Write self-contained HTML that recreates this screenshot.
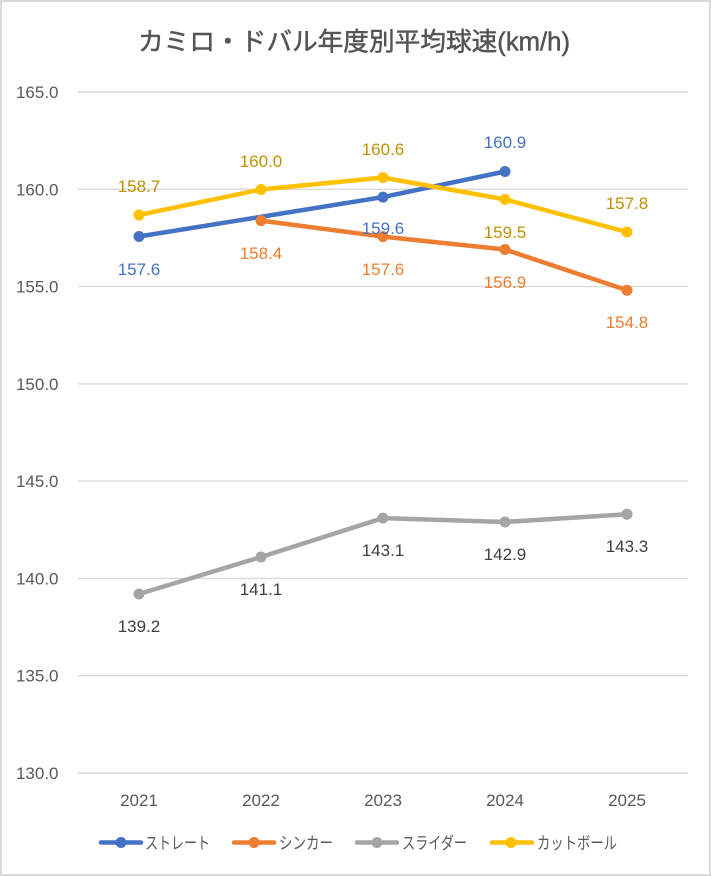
<!DOCTYPE html>
<html><head><meta charset="utf-8"><style>
html,body{margin:0;padding:0;background:#fff;}
svg{display:block;}
text{font-family:"Liberation Sans","Noto Sans CJK JP",sans-serif;}
</style></head><body>
<svg width="711" height="876" viewBox="0 0 711 876" xmlns="http://www.w3.org/2000/svg">
<rect x="0" y="0" width="711" height="876" fill="#fff"/>
<rect x="1" y="1" width="709" height="874" fill="none" stroke="#d9d9d9" stroke-width="2"/>
<text x="354" y="50.5" font-size="25.5" fill="#555555" stroke="#555555" stroke-width="0.5" text-anchor="middle" textLength="432" lengthAdjust="spacingAndGlyphs">カミロ・ドバル年度別平均球速(km/h)</text>
<g stroke="#d9d9d9" stroke-width="1.4">
<line x1="78" y1="92" x2="688" y2="92"/>
<line x1="78" y1="189.3" x2="688" y2="189.3"/>
<line x1="78" y1="286.6" x2="688" y2="286.6"/>
<line x1="78" y1="383.9" x2="688" y2="383.9"/>
<line x1="78" y1="481.1" x2="688" y2="481.1"/>
<line x1="78" y1="578.4" x2="688" y2="578.4"/>
<line x1="78" y1="675.7" x2="688" y2="675.7"/>
<line x1="78" y1="773" x2="688" y2="773"/>
</g>
<g font-size="17" fill="#595959" text-anchor="end">
<text x="58.5" y="98">165.0</text>
<text x="58.5" y="195.3">160.0</text>
<text x="58.5" y="292.6">155.0</text>
<text x="58.5" y="389.9">150.0</text>
<text x="58.5" y="487.1">145.0</text>
<text x="58.5" y="584.4">140.0</text>
<text x="58.5" y="681.7">135.0</text>
<text x="58.5" y="779">130.0</text>
</g>
<g font-size="17" fill="#595959" text-anchor="middle">
<text x="139" y="806">2021</text>
<text x="261" y="806">2022</text>
<text x="383" y="806">2023</text>
<text x="505" y="806">2024</text>
<text x="627" y="806">2025</text>
</g>
<!-- Blue -->
<polyline points="139,236.5 383,197.1 505,171.5" fill="none" stroke="#4472c4" stroke-width="4.5" stroke-linejoin="round"/>
<g fill="#4472c4"><circle cx="139" cy="236.5" r="5.5"/><circle cx="383" cy="197.1" r="5.5"/><circle cx="505" cy="171.5" r="5.5"/></g>
<!-- Orange -->
<polyline points="261,220.6 383,236.6 505,249.5 627,290.3" fill="none" stroke="#ed7d31" stroke-width="4.5" stroke-linejoin="round"/>
<g fill="#ed7d31"><circle cx="261" cy="220.6" r="5.5"/><circle cx="383" cy="236.6" r="5.5"/><circle cx="505" cy="249.5" r="5.5"/><circle cx="627" cy="290.3" r="5.5"/></g>
<!-- Gray -->
<polyline points="139,594 261,557 383,518.1 505,522 627,514.2" fill="none" stroke="#a5a5a5" stroke-width="4.5" stroke-linejoin="round"/>
<g fill="#a5a5a5"><circle cx="139" cy="594" r="5.5"/><circle cx="261" cy="557" r="5.5"/><circle cx="383" cy="518.1" r="5.5"/><circle cx="505" cy="522" r="5.5"/><circle cx="627" cy="514.2" r="5.5"/></g>
<!-- Yellow -->
<polyline points="139,215 261,189.5 383,177.6 505,199.4 627,232" fill="none" stroke="#ffc000" stroke-width="4.5" stroke-linejoin="round"/>
<g fill="#ffc000"><circle cx="139" cy="215" r="5.5"/><circle cx="261" cy="189.5" r="5.5"/><circle cx="383" cy="177.6" r="5.5"/><circle cx="505" cy="199.4" r="5.5"/><circle cx="627" cy="232" r="5.5"/></g>
<!-- Labels -->
<g font-size="17" text-anchor="middle">
<g fill="#4472c4">
<text x="139" y="275">157.6</text>
<text x="383" y="234">159.6</text>
<text x="505" y="148">160.9</text>
</g>
<g fill="#ed7d31">
<text x="261" y="259">158.4</text>
<text x="383" y="275">157.6</text>
<text x="505" y="288">156.9</text>
<text x="627" y="328">154.8</text>
</g>
<g fill="#404040">
<text x="139" y="632">139.2</text>
<text x="261" y="595">141.1</text>
<text x="383" y="556">143.1</text>
<text x="505" y="560">142.9</text>
<text x="627" y="552">143.3</text>
</g>
<g fill="#bf9000">
<text x="139" y="192">158.7</text>
<text x="261" y="167">160.0</text>
<text x="383" y="155">160.6</text>
<text x="505" y="238">159.5</text>
<text x="627" y="209">157.8</text>
</g>
</g>
<!-- Legend -->
<g stroke-width="4.5" stroke-linecap="round">
<line x1="101" y1="842.5" x2="141" y2="842.5" stroke="#4472c4"/>
<line x1="234" y1="842.5" x2="274" y2="842.5" stroke="#ed7d31"/>
<line x1="357" y1="842.5" x2="397" y2="842.5" stroke="#a5a5a5"/>
<line x1="492" y1="842.5" x2="532" y2="842.5" stroke="#ffc000"/>
</g>
<circle cx="121" cy="842.5" r="5.5" fill="#4472c4"/>
<circle cx="254" cy="842.5" r="5.5" fill="#ed7d31"/>
<circle cx="377" cy="842.5" r="5.5" fill="#a5a5a5"/>
<circle cx="511" cy="842.5" r="5.5" fill="#ffc000"/>
<g font-size="17" fill="#595959">
<text x="145" y="849" textLength="65" lengthAdjust="spacingAndGlyphs">ストレート</text>
<text x="279" y="849" textLength="54" lengthAdjust="spacingAndGlyphs">シンカー</text>
<text x="402" y="849" textLength="65" lengthAdjust="spacingAndGlyphs">スライダー</text>
<text x="537" y="849" textLength="80" lengthAdjust="spacingAndGlyphs">カットボール</text>
</g>
</svg>
</body></html>
